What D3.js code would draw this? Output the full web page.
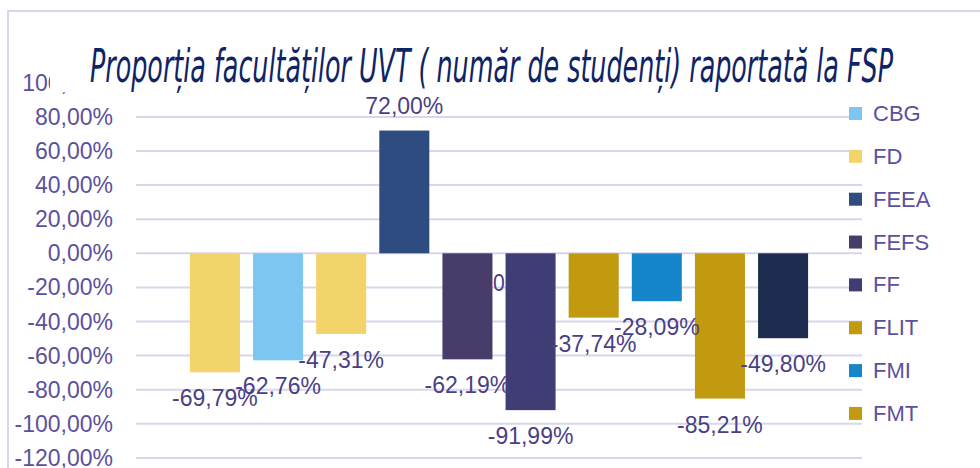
<!DOCTYPE html>
<html>
<head>
<meta charset="utf-8">
<script src="https://cdn.jsdelivr.net/npm/d3@7"></script>
<style>
  html, body { margin: 0; padding: 0; background: #ffffff; }
  svg { display: block; }
</style>
</head>
<body>
<svg id="chart" width="980" height="468"></svg>
<script>
// ---------- data ----------
const titleText = "Proporția facultăților UVT ( număr de studenți) raportată la FSP";
const barKeys   = ["b1", "b2", "b3", "b4", "b5", "b6", "b7", "b8", "b9", "b10"];
const barValues = [-69.79, -62.76, -47.31, 72.00, -62.19, -91.99, -37.74, -28.09, -85.21, -49.80];
const barColors = ["#F2D46B", "#7DC6F2", "#F2D46B", "#2E4C80", "#483C6B", "#3F3D73", "#C19A0F", "#1486C9", "#C19A0F", "#1E2D4F"];
const legendNames  = ["CBG", "FD", "FEEA", "FEFS", "FF", "FLIT", "FMI", "FMT"];
const legendColors = ["#7DC6F2", "#F2D46B", "#2E4C80", "#483C6B", "#3F3D73", "#C19A0F", "#1486C9", "#C19A0F"];
const yTickValues = [-120, -100, -80, -60, -40, -20, 0, 20, 40, 60, 80, 100];
const occludedLabelValue = 0; // a "0,00%" label mostly hidden behind the FEFS / FF bars

// ---------- setup ----------
const svg = d3.select("#chart");
const W = 980, H = 468;
const locale = d3.formatLocale({decimal: ",", thousands: ".", grouping: [3], currency: ["", ""], minus: "-"});
const fmt = v => locale.format(".2f")(v) + "%";

const gridColor = "#DAD6EA";
const axisTextColor = "#5C509E";
const labelColor = "#4A3F86";
const fontMain = "'Liberation Sans', Arial, sans-serif";

svg.append("rect").attr("width", W).attr("height", H).attr("fill", "#fff");
// outer chart border (left + top visible)
svg.append("path")
  .attr("d", `M8,${H + 5} L8,11 L${W + 5},11`)
  .attr("fill", "none").attr("stroke", gridColor).attr("stroke-width", 2);

const plotLeft = 136, plotRight = 862;
const y = d3.scaleLinear().domain([-120, 100]).range([457.9, 82.8]);
const x = d3.scaleBand().domain(barKeys).range([plotLeft, plotRight])
  .paddingInner(0.2076).paddingOuter(0.854);

// gridlines
svg.append("g").selectAll("line").data(yTickValues).join("line")
  .attr("x1", plotLeft).attr("x2", plotRight)
  .attr("y1", d => y(d)).attr("y2", d => y(d))
  .attr("stroke", gridColor).attr("stroke-width", 2);

// y-axis tick labels
svg.append("g").selectAll("text").data(yTickValues).join("text")
  .attr("x", 113).attr("y", d => y(d) + 8)
  .attr("text-anchor", "end")
  .attr("font-family", fontMain).attr("font-size", 23)
  .attr("fill", axisTextColor)
  .text(d => fmt(d));

// occluded label (drawn beneath bars)
svg.append("text")
  .attr("x", x("b5") + x.bandwidth() + 0.5)
  .attr("y", y(occludedLabelValue) + 30 + 8)
  .attr("text-anchor", "start")
  .attr("font-family", fontMain).attr("font-size", 23)
  .attr("textLength", 60).attr("lengthAdjust", "spacingAndGlyphs")
  .attr("fill", labelColor)
  .text(fmt(occludedLabelValue));

// bars
const bars = barKeys.map((k, i) => ({k, v: barValues[i], c: barColors[i]}));
svg.append("g").selectAll("rect").data(bars).join("rect")
  .attr("x", d => x(d.k))
  .attr("width", x.bandwidth())
  .attr("y", d => Math.min(y(0), y(d.v)))
  .attr("height", d => Math.abs(y(d.v) - y(0)))
  .attr("fill", d => d.c);

// data labels
svg.append("g").selectAll("text").data(bars).join("text")
  .attr("x", d => x(d.k) + x.bandwidth() / 2)
  .attr("y", d => (d.v >= 0 ? y(d.v) - 25 : y(d.v) + 26) + 8)
  .attr("text-anchor", "middle")
  .attr("font-family", fontMain).attr("font-size", 23)
  .attr("fill", labelColor)
  .text(d => fmt(d.v));

// legend
const legendG = svg.append("g");
legendNames.forEach((n, i) => {
  const cy = 113.5 + i * 42.85;
  legendG.append("rect").attr("x", 849).attr("y", cy - 6.5).attr("width", 13).attr("height", 13)
    .attr("fill", legendColors[i]);
  legendG.append("text").attr("x", 873).attr("y", cy + 7.5)
    .attr("font-family", fontMain).attr("font-size", 22)
    .attr("fill", axisTextColor).text(n);
});

// title with white box
svg.append("rect").attr("x", 50).attr("y", 28).attr("width", 890).attr("height", 64).attr("fill", "#fff");
svg.append("text")
  .attr("x", 90).attr("y", 82)
  .attr("font-family", "'Liberation Sans Narrow', 'DejaVu Sans Condensed', 'Open Sans', sans-serif")
  .attr("font-style", "italic")
  .attr("font-size", 46)
  .attr("textLength", 803).attr("lengthAdjust", "spacingAndGlyphs")
  .attr("fill", "#0E2466")
  .text(titleText);
</script>
</body>
</html>
